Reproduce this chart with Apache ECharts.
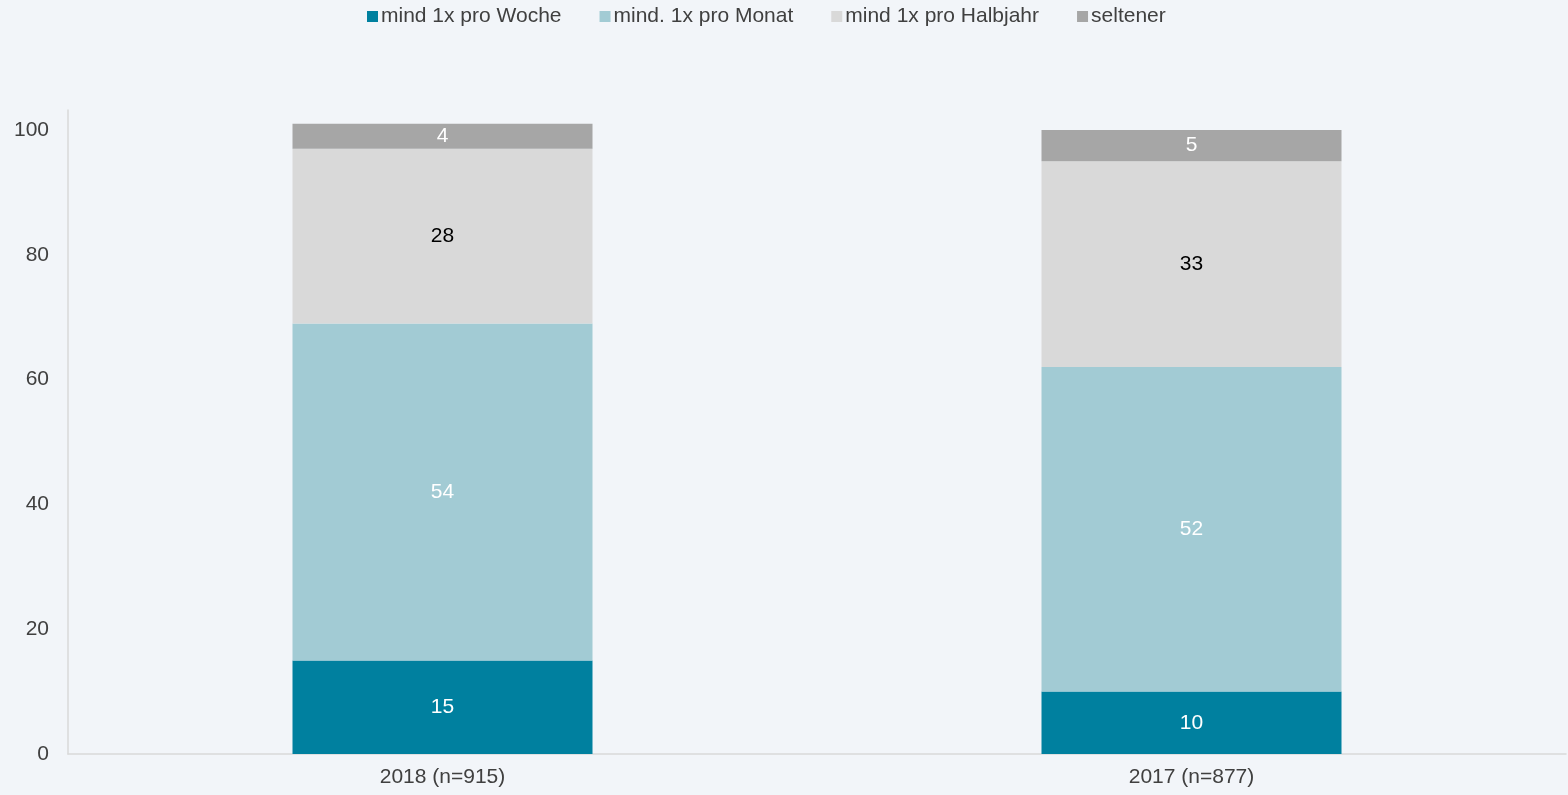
<!DOCTYPE html>
<html>
<head>
<meta charset="utf-8">
<script src="https://cdn.jsdelivr.net/npm/echarts@6/dist/echarts.min.js"></script>
<style>
  html, body { margin: 0; padding: 0; background: #F2F5F9; }
  #chart { width: 1568px; height: 795px; }
</style>
</head>
<body>
<div id="chart"></div>
<script>
// Survey waves on the x axis
const categories = ['2018 (n=915)', '2017 (n=877)'];

// Shares per frequency band (percent)
const weekly = [15, 10];
const monthly = [54, 52];
const halfYear = [28, 33];
const rarer = [4, 5];

const seriesNames = ['mind 1x pro Woche', 'mind. 1x pro Monat', 'mind 1x pro Halbjahr', 'seltener'];
const seriesColors = ['#00809F', '#A2CBD4', '#D9D9D9', '#A6A6A6'];
const labelColors = ['#FFFFFF', '#FFFFFF', '#000000', '#FFFFFF'];
const seriesData = [weekly, monthly, halfYear, rarer];

const chart = echarts.init(document.getElementById('chart'));

const series = seriesData.map((d, i) => ({
  name: seriesNames[i],
  type: 'bar',
  stack: 'total',
  data: d,
  barWidth: 300,
  itemStyle: { color: seriesColors[i] },
  label: {
    show: true,
    position: 'inside',
    color: labelColors[i],
    fontFamily: 'Liberation Sans, Arial, sans-serif',
    fontSize: 21
  }
}));

chart.setOption({
  backgroundColor: '#F2F5F9',
  animation: false,
  textStyle: { fontFamily: 'Liberation Sans, Arial, sans-serif' },
  legend: {
    top: 1,
    left: 362,
    itemWidth: 11,
    itemHeight: 11,
    itemGap: 38,
    icon: 'rect',
    textStyle: { color: '#404040', fontSize: 21, padding: [0, 0, 0, -2] },
    data: seriesNames
  },
  grid: { left: 68, right: 2, top: 110, bottom: 41, containLabel: false },
  xAxis: {
    type: 'category',
    data: categories,
    axisLine: { lineStyle: { color: '#D9D9D9', width: 1.5 } },
    axisTick: { show: false },
    axisLabel: { color: '#404040', fontSize: 21, margin: 13 }
  },
  yAxis: {
    type: 'value',
    min: 0,
    max: 103.2,
    interval: 20,
    axisLine: { show: true, lineStyle: { color: '#D9D9D9', width: 1.5 } },
    axisTick: { show: false },
    splitLine: { show: false },
    axisLabel: { color: '#404040', fontSize: 21, margin: 19, showMaxLabel: false }
  },
  series: series
});
</script>
</body>
</html>
